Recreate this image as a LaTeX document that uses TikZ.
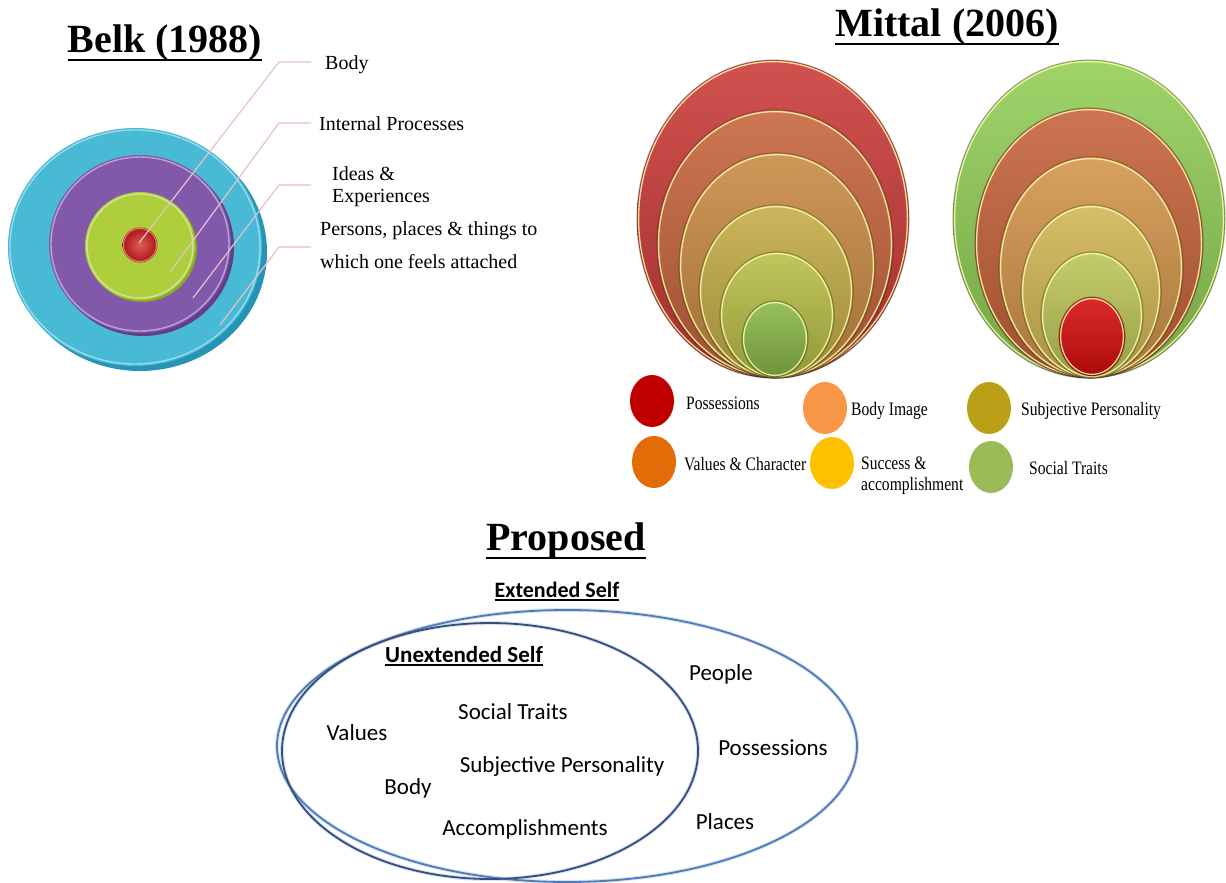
\documentclass[tikz,border=0pt]{standalone}
\usepackage{fontspec}
\usepackage{graphicx}
\setmainfont{Liberation Serif}
\newfontfamily\calibri{Carlito}
\usetikzlibrary{shapes.geometric}

% Belk target colours
\definecolor{cyantop}{RGB}{72,186,214}
\definecolor{cyanside}{RGB}{38,148,182}
\definecolor{purptop}{RGB}{130,88,170}
\definecolor{purpside}{RGB}{96,62,138}
\definecolor{limetop}{RGB}{174,206,60}
\definecolor{limeside}{RGB}{138,168,38}
\definecolor{redtop}{RGB}{222,50,44}
\definecolor{redside}{RGB}{165,22,22}
\definecolor{leadpink}{RGB}{232,192,202}
% Mittal nested ovals (left)
\definecolor{lA}{RGB}{202,58,56}
\definecolor{lB}{RGB}{198,100,60}
\definecolor{lC}{RGB}{200,138,66}
\definecolor{lD}{RGB}{196,172,70}
\definecolor{lE}{RGB}{184,190,70}
\definecolor{lF}{RGB}{138,184,72}
% Mittal nested ovals (right)
\definecolor{rA}{RGB}{146,206,86}
\definecolor{rB}{RGB}{198,98,58}
\definecolor{rC}{RGB}{210,148,74}
\definecolor{rD}{RGB}{210,182,84}
\definecolor{rE}{RGB}{188,198,88}
\definecolor{rF}{RGB}{214,14,14}
% legend
\definecolor{kposs}{RGB}{192,0,0}
\definecolor{kbody}{RGB}{247,150,70}
\definecolor{ksubj}{RGB}{186,160,24}
\definecolor{kvalu}{RGB}{227,108,9}
\definecolor{ksucc}{RGB}{255,192,0}
\definecolor{ksoci}{RGB}{155,187,89}
% proposed ovals
\definecolor{extblue}{RGB}{82,122,182}
\definecolor{unextblue}{RGB}{55,78,125}
\definecolor{halo}{RGB}{190,208,232}

% glossy oval: centre x, centre y, x radius, y radius, colour
\newcommand\glossoval[5]{%
  \shade[top color=#5!88!white, middle color=#5, bottom color=#5!80!black]
    (#1,#2) ellipse [x radius=#3, y radius=#4];
  \draw[black, draw opacity=0.25, line width=1.2pt]
    (#1,#2) ellipse [x radius=#3, y radius=#4];
  \draw[rimlight] (#1,#2) ellipse [x radius=#3-1.6, y radius=#4-1.6];}

% flat disc with a visible side: centre x, centre y, x radius, y radius, offset, top, side
\newcommand\bevdisc[7]{%
  \fill[#7] (#1+#5,#2+#5) ellipse [x radius=#3, y radius=#4];
  \fill[#6] (#1,#2) ellipse [x radius=#3, y radius=#4];
  \draw[white, draw opacity=0.45, line width=1.4pt]
    (#1,#2) ellipse [x radius=#3-2, y radius=#4-2];}

\newcommand\narrowtext[1]{\scalebox{0.82}[1]{#1}}

\begin{document}
\begin{tikzpicture}[x=1pt,y=-1pt,
  heading/.style={font=\fontsize{40}{44}\selectfont\bfseries, inner sep=0pt, anchor=base},
  headrule/.style={line width=2.6pt},
  belklabel/.style={font=\fontsize{20}{22}\selectfont, inner sep=0pt, anchor=base west},
  leader/.style={draw=leadpink, line width=1.2pt},
  rimlight/.style={draw=yellow!35!white, draw opacity=0.85, line width=1.3pt},
  legdot/.style={ellipse, minimum width=44pt, minimum height=52pt, inner sep=0pt},
  legtext/.style={font=\fontsize{19}{21}\selectfont, inner sep=0pt, anchor=base west},
  proptext/.style={font=\calibri\fontsize{23}{25}\selectfont, inner sep=0pt, anchor=base},
  propbold/.style={font=\calibri\bfseries\fontsize{22}{24}\selectfont, inner sep=0pt, anchor=base},
  setline/.style={line width=1.8pt}]

\useasboundingbox (0,0) rectangle (1226,883);

%% ---------------- Belk (1988) ----------------
\node[heading] (tbelk) at (165,53) {Belk (1988)};
\draw[headrule] ([yshift=-7pt]tbelk.base west) -- ([yshift=-7pt]tbelk.base east);

\bevdisc{135}{247}{127}{119}{5}{cyantop}{cyanside}
\bevdisc{140}{244}{91}{89}{3}{purptop}{purpside}
\bevdisc{140}{246}{55}{54}{2}{limetop}{limeside}
\shade[inner color=redtop!80!white, outer color=redside] (140,245) circle [radius=17.5];
\draw[redtop!60!white, line width=1pt] (140,245) circle [radius=16.5];

\coordinate (inbody) at (139,243);
\coordinate (inproc) at (170,272);
\coordinate (inidea) at (193,298);
\coordinate (inpers) at (220,325);
\coordinate (knbody) at (279,62);
\coordinate (knproc) at (279,123);
\coordinate (knidea) at (279,185);
\coordinate (knpers) at (279,247);
\coordinate (endbody) at (311,62);
\coordinate (endproc) at (311,123);
\coordinate (endidea) at (311,185);
\coordinate (endpers) at (311,247);

\draw[leader] (inbody) -- (knbody) -- (endbody);
\draw[leader] (inproc) -- (knproc) -- (endproc);
\draw[leader] (inidea) -- (knidea) -- (endidea);
\draw[leader] (inpers) -- (knpers) -- (endpers);

\node[belklabel] (lbody) at (325,70) {Body};
\node[belklabel] (lproc) at (319,130) {Internal Processes};
\node[belklabel] (lidea) at (332,180) {Ideas \&};
\node[belklabel] (lexpe) at (332,202) {Experiences};
\node[belklabel] (lpers) at (320,235) {Persons, places \& things to};
\node[belklabel] (lwhic) at (320,268) {which one feels attached};

%% ---------------- Mittal (2006) ----------------
\node[heading] (tmitt) at (947,37) {Mittal (2006)};
\draw[headrule] ([yshift=-7pt]tmitt.base west) -- ([yshift=-7pt]tmitt.base east);

% left nest, all ovals touching at the bottom
\glossoval{773}{219}{136}{159}{lA}
\glossoval{775}{244}{118}{134}{lB}
\glossoval{777}{265.5}{98}{112.5}{lC}
\glossoval{776}{291.5}{77}{86.5}{lD}
\glossoval{777}{315}{57}{63}{lE}
\glossoval{775}{339}{33}{38}{lF}

% right nest
\glossoval{1089}{219}{136}{159}{rA}
\glossoval{1089}{243}{114}{135}{rB}
\glossoval{1091}{267.5}{92}{110.5}{rC}
\glossoval{1091}{291.5}{70}{86.5}{rD}
\glossoval{1092}{315}{51}{63}{rE}
\glossoval{1092}{336.5}{33}{39.5}{rF}

% legend
\node[legdot, fill=kposs] (dposs) at (652,401) {};
\node[legdot, fill=kbody] (dbody) at (825,408) {};
\node[legdot, fill=ksubj] (dsubj) at (989,408) {};
\node[legdot, fill=kvalu] (dvalu) at (654,462) {};
\node[legdot, fill=ksucc] (dsucc) at (832,463) {};
\node[legdot, fill=ksoci] (dsoci) at (991,467) {};

\node[legtext] (kposst) at (686,409) {\narrowtext{Possessions}};
\node[legtext] (kbodyt) at (851,415) {\narrowtext{Body Image}};
\node[legtext] (ksubjt) at (1021,415) {\narrowtext{Subjective Personality}};
\node[legtext] (kvalut) at (684,470) {\narrowtext{Values \& Character}};
\node[legtext] (ksucct) at (861,469) {\narrowtext{Success \&}};
\node[legtext] (kaccot) at (861,490) {\narrowtext{accomplishment}};
\node[legtext] (ksocit) at (1029,474) {\narrowtext{Social Traits}};

%% ---------------- Proposed ----------------
\node[heading] (tprop) at (566,550) {Proposed};
\draw[headrule] ([yshift=-8pt]tprop.base west) -- ([yshift=-8pt]tprop.base east);

\node[propbold] (ext) at (557,597) {Extended Self};
\draw[line width=1.4pt] ([yshift=-3pt]ext.base west) -- ([yshift=-3pt]ext.base east);

\draw[halo, line width=4pt, draw opacity=0.6] (567,746) ellipse [x radius=290, y radius=136];
\draw[halo, line width=4pt, draw opacity=0.6] (490,751) ellipse [x radius=208, y radius=128];
\draw[setline, extblue] (567,746) ellipse [x radius=290, y radius=136];
\draw[setline, unextblue] (490,751) ellipse [x radius=208, y radius=128];

\node[propbold, font=\calibri\bfseries\fontsize{23}{25}\selectfont] (unext) at (464,662) {Unextended Self};
\draw[line width=1.4pt] ([yshift=-3pt]unext.base west) -- ([yshift=-3pt]unext.base east);

\node[proptext] (pvalu) at (357,740) {Values};
\node[proptext] (psoci) at (513,719) {Social Traits};
\node[proptext] (psubj) at (562,772) {Subjective Personality};
\node[proptext] (pbody) at (408,794) {Body};
\node[proptext] (pacco) at (525,835) {Accomplishments};
\node[proptext] (ppeop) at (721,680) {People};
\node[proptext] (pposs) at (773,755) {Possessions};
\node[proptext] (pplac) at (725,829) {Places};

\end{tikzpicture}
\end{document}
